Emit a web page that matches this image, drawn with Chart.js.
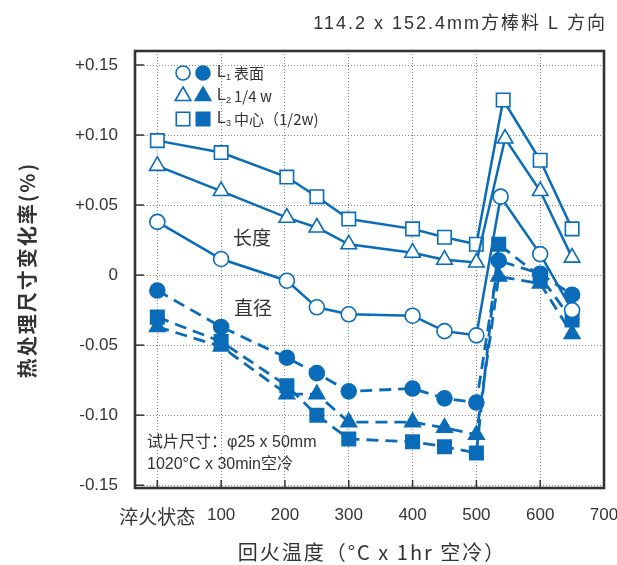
<!DOCTYPE html>
<html>
<head>
<meta charset="utf-8">
<script src="https://cdn.jsdelivr.net/npm/chart.js@4.4.1/dist/chart.umd.min.js"></script>
<style>
html, body { margin: 0; padding: 0; background: #fff; }
#wrap { width: 617px; height: 565px; }
</style>
</head>
<body>
<div id="wrap"><canvas id="chart" width="617" height="565"></canvas></div>
<script>
// tick values and labels
const xTickValues = [0, 100, 200, 300, 400, 500, 600, 700];
const xTickLabels = ['淬火状态', '100', '200', '300', '400', '500', '600', '700'];
const yTickValues = [-0.15, -0.10, -0.05, 0, 0.05, 0.10, 0.15];
const yTickLabels = ['-0.15', '-0.10', '-0.05', '0', '+0.05', '+0.10', '+0.15'];

// length direction (open markers)
const tempsLenL1 = [0, 100, 203, 250, 300, 400, 450, 500, 538, 600, 650];
const lenL1 = [0.038, 0.0115, -0.004, -0.023, -0.028, -0.029, -0.040, -0.043, 0.056, 0.015, -0.025];
const tempsLenL2 = [0, 100, 203, 250, 300, 400, 450, 500, 545, 600, 650];
const lenL2 = [0.078, 0.060, 0.041, 0.034, 0.022, 0.016, 0.011, 0.009, 0.0975, 0.060, 0.0125];
const tempsLenL3 = [0, 100, 203, 250, 300, 400, 450, 500, 542, 600, 650];
const lenL3 = [0.096, 0.0875, 0.070, 0.056, 0.040, 0.033, 0.027, 0.022, 0.125, 0.082, 0.033];

// diameter direction (filled markers)
const tempsDia = [0, 100, 203, 250, 300, 400, 450, 500, 535, 600, 650];
const diaL1 = [-0.011, -0.037, -0.059, -0.070, -0.083, -0.081, -0.088, -0.091, 0.0104, 0.001, -0.014];
const diaL2 = [-0.037, -0.051, -0.085, -0.085, -0.105, -0.105, -0.109, -0.114, -0.001, -0.006, -0.042];
const diaL3 = [-0.030, -0.0475, -0.079, -0.100, -0.117, -0.119, -0.1225, -0.127, 0.022, -0.001, -0.032];

const BLUE = '#0a6cb8';
const INK = '#333333';
const FONT = "'Liberation Sans', 'Noto Sans CJK SC', sans-serif";
const CJK = "'Noto Sans CJK SC', 'Liberation Sans', sans-serif";

function toPoints(xs, ys) {
    return xs.map((x, i) => ({ x: x, y: ys[i] }));
}

function series(label, xs, ys, style, radius, filled) {
    return {
        label: label,
        data: toPoints(xs, ys),
        borderColor: BLUE,
        borderWidth: filled ? 2.8 : 2.5,
        borderDash: filled ? [12, 7] : [],
        pointStyle: style,
        pointRadius: radius,
        pointHoverRadius: radius,
        pointBorderWidth: 1.6,
        pointBorderColor: BLUE,
        pointBackgroundColor: filled ? BLUE : '#ffffff',
        tension: 0
    };
}

// marker shapes for the hand-drawn key
function drawMarker(ctx, style, x, y, r, filled) {
    ctx.beginPath();
    if (style === 'circle') {
        ctx.arc(x, y, r, 0, Math.PI * 2);
    } else if (style === 'triangle') {
        ctx.moveTo(x, y - r);
        ctx.lineTo(x + r * 0.866, y + r * 0.5);
        ctx.lineTo(x - r * 0.866, y + r * 0.5);
        ctx.closePath();
    } else {
        const s = r * Math.SQRT1_2;
        ctx.rect(x - s, y - s, s * 2, s * 2);
    }
    ctx.fillStyle = filled ? BLUE : '#ffffff';
    ctx.fill();
    ctx.lineWidth = 1.6;
    ctx.strokeStyle = BLUE;
    ctx.stroke();
}

const framePlugin = {
    id: 'frame',
    afterDraw(chart) {
        const ctx = chart.ctx;
        const a = chart.chartArea;
        const xs = chart.scales.x;
        const ys = chart.scales.y;
        ctx.save();

        // inward ticks
        ctx.strokeStyle = INK;
        ctx.lineWidth = 1.5;
        ctx.setLineDash([]);
        yTickValues.forEach(v => {
            const py = ys.getPixelForValue(v);
            ctx.beginPath();
            ctx.moveTo(a.left, py);
            ctx.lineTo(a.left + 9, py);
            ctx.stroke();
        });
        xTickValues.forEach(v => {
            const px = xs.getPixelForValue(v);
            ctx.beginPath();
            ctx.moveTo(px, a.bottom);
            ctx.lineTo(px, a.bottom - 8);
            ctx.stroke();
        });

        // plot frame
        ctx.lineWidth = 2.6;
        ctx.strokeRect(a.left, a.top, a.right - a.left, a.bottom - a.top);

        // key
        const keyRows = [
            ['circle', '1', '表面', 7],
            ['triangle', '2', '1/4 w', 9],
            ['rect', '3', '中心（1/2w)', 9.5]
        ];
        keyRows.forEach((row, i) => {
            const y = 73 + i * 23;
            drawMarker(ctx, row[0], 183, y, row[3], false);
            drawMarker(ctx, row[0], 203, y, row[3], true);
            ctx.fillStyle = INK;
            ctx.textBaseline = 'middle';
            ctx.textAlign = 'left';
            ctx.font = '16px ' + FONT;
            ctx.fillText('L', 217, y);
            ctx.font = '9px ' + FONT;
            ctx.fillText(row[1], 226, y + 5);
            ctx.font = '15px ' + CJK;
            ctx.fillText(row[2], 234, y);
        });

        // notes inside the plot
        ctx.fillStyle = INK;
        ctx.textAlign = 'center';
        ctx.textBaseline = 'middle';
        ctx.font = '19px ' + CJK;
        ctx.fillText('长度', 252, 238);
        ctx.fillText('直径', 253, 308);
        ctx.textAlign = 'left';
        ctx.font = '16px ' + FONT;
        ctx.fillText('试片尺寸：φ25 x 50mm', 147, 443);
        ctx.fillText('1020°C x 30min空冷', 147, 465);

        // titles
        ctx.textAlign = 'right';
        ctx.font = '18px ' + FONT;
        ctx.letterSpacing = '2px';
        ctx.fillText('114.2 x 152.4mm方棒料 L 方向', 607, 24);

        ctx.textAlign = 'center';
        ctx.font = '20px ' + CJK;
        ctx.fillText('回火温度（°C x 1hr 空冷）', 372, 552);

        ctx.translate(27, 270);
        ctx.rotate(-Math.PI / 2);
        ctx.font = 'bold 20px ' + CJK;
        ctx.fillText('热处理尺寸变化率(%)', 0, 0);
        ctx.restore();
    }
};

new Chart(document.getElementById('chart'), {
    type: 'line',
    data: {
        datasets: [
            series('L1 表面 长度', tempsLenL1, lenL1, 'circle', 7.5, false),
            series('L2 1/4 w 长度', tempsLenL2, lenL2, 'triangle', 9, false),
            series('L3 中心 长度', tempsLenL3, lenL3, 'rect', 9.5, false),
            series('L1 表面 直径', tempsDia, diaL1, 'circle', 7.5, true),
            series('L2 1/4 w 直径', tempsDia, diaL2, 'triangle', 9, true),
            series('L3 中心 直径', tempsDia, diaL3, 'rect', 9.5, true)
        ]
    },
    options: {
        responsive: false,
        animation: false,
        layout: { padding: { left: 0, top: 51, right: 13, bottom: 0 } },
        plugins: {
            legend: { display: false },
            tooltip: { enabled: false }
        },
        scales: {
            x: {
                type: 'linear',
                min: -35,
                max: 700,
                afterBuildTicks: scale => {
                    scale.ticks = xTickValues.map(v => ({ value: v }));
                },
                afterFit: scale => {
                    scale.height = 77;
                    scale.paddingLeft = 0;
                    scale.paddingRight = 0;
                },
                grid: { color: '#8a8a8a', lineWidth: 1, drawTicks: false },
                border: { display: false, dash: [1, 2] },
                ticks: {
                    padding: 17,
                    color: INK,
                    maxRotation: 0,
                    autoSkip: false,
                    font: c => ({ family: c.index === 0 ? CJK : FONT, size: c.index === 0 ? 19 : 17 }),
                    callback: (value, index) => xTickLabels[index]
                }
            },
            y: {
                min: -0.152,
                max: 0.16,
                afterBuildTicks: scale => {
                    scale.ticks = yTickValues.map(v => ({ value: v }));
                },
                afterFit: scale => {
                    scale.width = 135;
                    scale.paddingTop = 0;
                    scale.paddingBottom = 0;
                },
                grid: { color: '#8a8a8a', lineWidth: 1, drawTicks: false },
                border: { display: false, dash: [1, 2] },
                ticks: {
                    padding: 17,
                    color: INK,
                    font: { family: FONT, size: 17 },
                    callback: (value, index) => yTickLabels[index]
                }
            }
        }
    },
    plugins: [framePlugin]
});
</script>
</body>
</html>
